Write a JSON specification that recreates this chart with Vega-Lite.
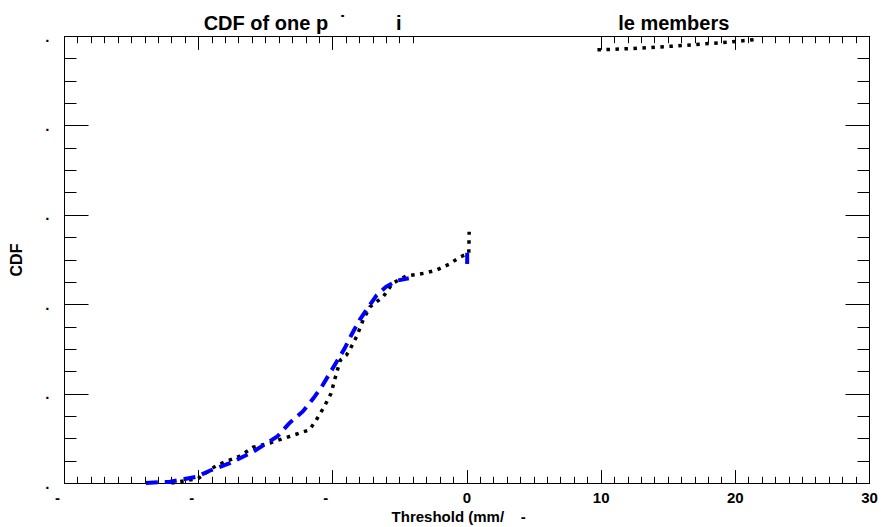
{
  "$schema": "https://vega.github.io/schema/vega-lite/v6.json",
  "width": 805,
  "height": 447,
  "autosize": {"type": "none"},
  "padding": {"left": 64, "top": 36, "right": 12, "bottom": 44},
  "background": "white",
  "title": {
    "text": "CDF of one p\u00a0\u00a0\u02d9\u00a0\u00a0\u00a0\u00a0\u00a0\u00a0\u00a0\u00a0\u00a0i\u00a0\u00a0\u00a0\u00a0\u00a0\u00a0\u00a0\u00a0\u00a0\u00a0\u00a0\u00a0\u00a0\u00a0\u00a0\u00a0\u00a0\u00a0\u00a0\u00a0\u00a0\u00a0\u00a0\u00a0\u00a0\u00a0\u00a0\u00a0\u00a0\u00a0\u00a0\u00a0\u00a0\u00a0\u00a0\u00a0\u00a0\u00a0\u00a0le members",
    "font": "Liberation Sans",
    "fontSize": 20,
    "fontWeight": "bold",
    "color": "black",
    "anchor": "middle",
    "baseline": "bottom",
    "offset": -25
  },
  "datasets": {
    "obs": [
      {"seg": "a", "x": -22.0, "y": 0.0},
      {"seg": "a", "x": -20.0, "y": 0.01},
      {"seg": "a", "x": -18.6, "y": 0.04},
      {"seg": "a", "x": -16.9, "y": 0.06},
      {"seg": "a", "x": -15.9, "y": 0.08},
      {"seg": "a", "x": -14.6, "y": 0.09},
      {"seg": "a", "x": -12.9, "y": 0.107},
      {"seg": "a", "x": -11.7, "y": 0.119},
      {"seg": "a", "x": -11.2, "y": 0.141},
      {"seg": "a", "x": -10.6, "y": 0.171},
      {"seg": "a", "x": -10.1, "y": 0.2},
      {"seg": "a", "x": -9.7, "y": 0.245},
      {"seg": "a", "x": -9.4, "y": 0.275},
      {"seg": "a", "x": -8.95, "y": 0.286},
      {"seg": "a", "x": -8.7, "y": 0.298},
      {"seg": "a", "x": -8.2, "y": 0.327},
      {"seg": "a", "x": -7.7, "y": 0.365},
      {"seg": "a", "x": -7.2, "y": 0.394},
      {"seg": "a", "x": -6.2, "y": 0.417},
      {"seg": "a", "x": -5.5, "y": 0.447},
      {"seg": "a", "x": -4.5, "y": 0.463},
      {"seg": "a", "x": -3.2, "y": 0.469},
      {"seg": "a", "x": -2.25, "y": 0.476},
      {"seg": "a", "x": -1.26, "y": 0.49},
      {"seg": "a", "x": -0.52, "y": 0.505},
      {"seg": "a", "x": 0.17, "y": 0.514},
      {"seg": "a", "x": 0.2, "y": 0.562},
      {"seg": "b", "x": 9.76, "y": 0.969},
      {"seg": "b", "x": 12.4, "y": 0.972},
      {"seg": "b", "x": 15.8, "y": 0.978},
      {"seg": "b", "x": 19.8, "y": 0.987},
      {"seg": "b", "x": 21.8, "y": 0.993}
    ],
    "ens": [
      {"seg": "a", "x": -23.9, "y": 0.0},
      {"seg": "a", "x": -22.1, "y": 0.003},
      {"seg": "a", "x": -20.1, "y": 0.014},
      {"seg": "a", "x": -19.1, "y": 0.028},
      {"seg": "a", "x": -17.6, "y": 0.045},
      {"seg": "a", "x": -15.9, "y": 0.07},
      {"seg": "a", "x": -14.1, "y": 0.104},
      {"seg": "a", "x": -13.2, "y": 0.134},
      {"seg": "a", "x": -12.2, "y": 0.16},
      {"seg": "a", "x": -11.4, "y": 0.19},
      {"seg": "a", "x": -10.8, "y": 0.215},
      {"seg": "a", "x": -10.2, "y": 0.245},
      {"seg": "a", "x": -9.6, "y": 0.275},
      {"seg": "a", "x": -9.1, "y": 0.3},
      {"seg": "a", "x": -8.6, "y": 0.33},
      {"seg": "a", "x": -7.96, "y": 0.365},
      {"seg": "a", "x": -7.3, "y": 0.394},
      {"seg": "a", "x": -6.7, "y": 0.42},
      {"seg": "a", "x": -6.0, "y": 0.439},
      {"seg": "a", "x": -5.2, "y": 0.4526},
      {"seg": "a", "x": -4.3, "y": 0.458},
      {"seg": "b", "x": 0.05, "y": 0.49},
      {"seg": "b", "x": 0.05, "y": 0.515}
    ]
  },
  "config": {
    "view": {"stroke": null},
    "axis": {
      "grid": false,
      "domainColor": "black",
      "domainWidth": 1,
      "tickColor": "black",
      "tickWidth": 1,
      "labelFont": "Liberation Sans",
      "labelFontSize": 15,
      "labelFontWeight": "bold",
      "labelColor": "black",
      "labelFlush": false,
      "labelOverlap": false,
      "labelBound": false,
      "titleFont": "Liberation Sans",
      "titleFontSize": 15,
      "titleFontWeight": "bold",
      "titleColor": "black"
    }
  },
  "resolve": {"axis": {"x": "independent", "y": "independent"}},
  "layer": [
    {
      "data": {"name": "obs"},
      "mark": {"type": "line", "color": "black", "strokeWidth": 3.5, "strokeDash": [3.5, 5.5], "strokeCap": "butt"},
      "encoding": {
        "x": {
          "field": "x", "type": "quantitative",
          "scale": {"domain": [-30, 30], "nice": false, "zero": false},
          "axis": {
            "orient": "bottom",
            "values": [-30, -20, -10, 0, 10, 20, 30],
            "tickSize": -13.4,
            "labelPadding": 21,
            "labelExpr": "datum.value < 0 ? '-' : datum.label",
            "labelOffset": {"condition": {"test": "datum.value < 0", "value": -7}, "value": 0},
            "title": "Threshold (mm/\u00a0\u00a0\u00a0\u00a0-\u00a0\u00a0\u00a0\u00a0\u200b",
            "titlePadding": 4
          }
        },
        "y": {
          "field": "y", "type": "quantitative",
          "scale": {"domain": [0, 1], "nice": false},
          "axis": {
            "orient": "left",
            "values": [0, 0.2, 0.4, 0.6, 0.8, 1.0],
            "tickSize": -24,
            "labelPadding": 39,
            "labelExpr": "'.'",
            "title": "CDF",
            "titleFontSize": 16,
            "titlePadding": 20
          }
        },
        "detail": {"field": "seg"}
      }
    },
    {
      "data": {"name": "ens"},
      "mark": {"type": "line", "color": "#0000ff", "strokeWidth": 4, "strokeDash": [12, 7], "strokeCap": "butt"},
      "encoding": {
        "x": {
          "field": "x", "type": "quantitative",
          "axis": {
            "orient": "bottom",
            "values": [-29,-28,-27,-26,-25,-24,-23,-22,-21,-19,-18,-17,-16,-15,-14,-13,-12,-11,-9,-8,-7,-6,-5,-4,-3,-2,-1,1,2,3,4,5,6,7,8,9,11,12,13,14,15,16,17,18,19,21,22,23,24,25,26,27,28,29],
            "tickSize": -6.7,
            "labels": false,
            "title": null
          }
        },
        "y": {
          "field": "y", "type": "quantitative",
          "axis": {
            "orient": "left",
            "values": [0.05, 0.1, 0.15, 0.25, 0.3, 0.35, 0.45, 0.5, 0.55, 0.65, 0.7, 0.75, 0.85, 0.9, 0.95],
            "tickSize": -12,
            "labels": false,
            "title": null
          }
        },
        "detail": {"field": "seg"}
      }
    },
    {
      "mark": {"type": "rule", "color": "black", "strokeWidth": 1.5, "strokeDash": [12, 9], "strokeDashOffset": 12},
      "encoding": {
        "x": {
          "datum": 0,
          "axis": {
            "orient": "top",
            "values": [-30, -20, -10, 10, 20, 30],
            "tickSize": -13.4,
            "labels": false,
            "title": null,
            "minExtent": 0,
            "maxExtent": 0
          }
        },
        "y": {
          "datum": 1,
          "axis": {
            "orient": "right",
            "values": [0, 0.2, 0.4, 0.6, 0.8, 1.0],
            "tickSize": -24,
            "labels": false,
            "title": null
          }
        },
        "y2": {"datum": 0}
      }
    },
    {
      "mark": {"type": "rule", "color": "black", "strokeWidth": 1.5, "strokeDash": [12, 9]},
      "encoding": {
        "x": {
          "datum": -30,
          "axis": {
            "orient": "top",
            "values": [-29,-28,-27,-26,-25,-24,-23,-22,-21,-19,-18,-17,-16,-15,-14,-13,-12,-11,-9,-8,-7,-6,-5,-4,11,12,13,14,15,16,17,18,19,21,22,23,24,25,26,27,28,29],
            "tickSize": -6.7,
            "labels": false,
            "title": null,
            "minExtent": 0,
            "maxExtent": 0
          }
        },
        "x2": {"datum": 30},
        "y": {
          "datum": 0.4585,
          "axis": {
            "orient": "right",
            "values": [0.05, 0.1, 0.15, 0.25, 0.3, 0.35, 0.45, 0.5, 0.55, 0.65, 0.7, 0.75, 0.85, 0.9, 0.95],
            "tickSize": -12,
            "labels": false,
            "title": null
          }
        }
      }
    }
  ]
}
